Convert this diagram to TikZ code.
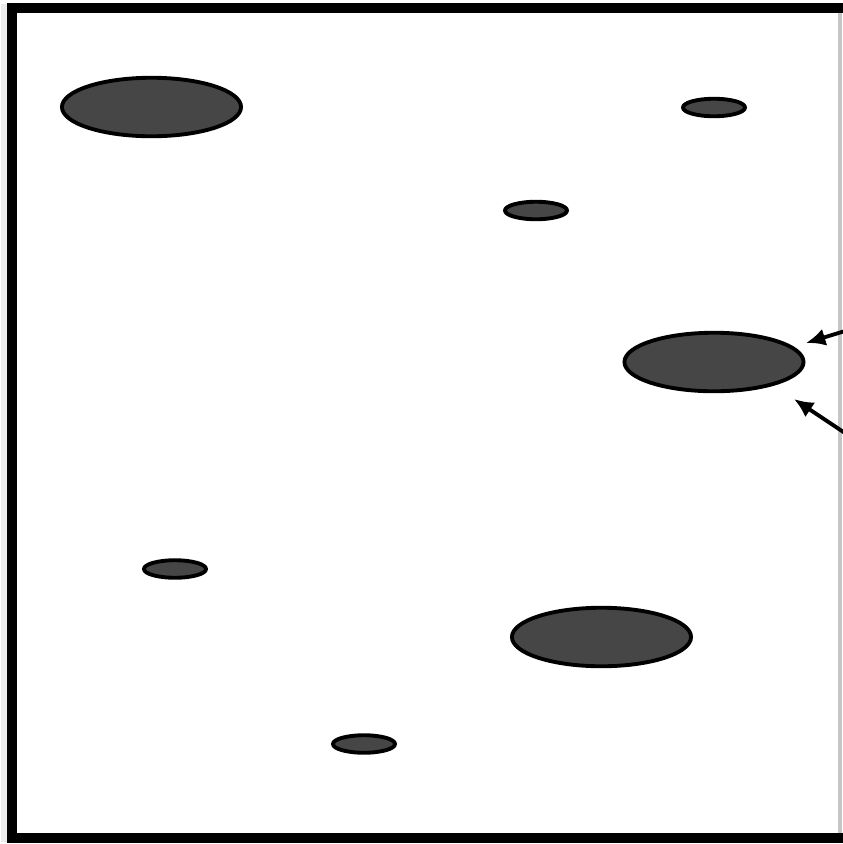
\documentclass[tikz,border=0pt]{standalone}
\usepackage{tikz}
\usetikzlibrary{shapes.geometric,arrows.meta}
\definecolor{holeGray}{HTML}{464646}

\begin{document}
\begin{tikzpicture}[x=0.01cm, y=-0.01cm,
    hole/.style={ellipse, draw=black, line width=1.1pt, fill=holeGray, inner sep=0pt},
    bighole/.style={hole, minimum width=1.79cm, minimum height=0.585cm},
    smallhole/.style={hole, minimum width=0.62cm, minimum height=0.175cm},
    pointer/.style={-{Latex[length=5.5pt,width=5pt]}, line width=1.1pt}]
            \useasboundingbox (0,0) rectangle (843,844);
            \clip (0,0) rectangle (843,844);
            % frame with a soft edge
            \draw[gray!15, line width=2pt] (5,4) -- (5,842);
            \draw[gray!45, line width=1.2pt] (840,13) -- (840,833);
            \draw[line width=0.1cm] (12,8) rectangle (870,838);
            % holes
            \node[bighole] (holeA) at (151.5,107) {};
            \node[smallhole] (holeB) at (714,107.5) {};
            \node[smallhole] (holeC) at (536,210.5) {};
            \node[bighole] (holeD) at (714,362) {};
            \node[smallhole] (holeE) at (175,569) {};
            \node[bighole] (holeF) at (601.5,637) {};
            \node[smallhole] (holeG) at (364,744) {};
            % pointers from the right
            \coordinate (tailA) at (845,331);
            \coordinate (tipA) at (806,343);
            \coordinate (tailB) at (845,433);
            \coordinate (tipB) at (794,399);
            \draw[pointer] (tailA) -- (tipA);
            \draw[pointer] (tailB) -- (tipB);
        \end{tikzpicture}
\end{document}
